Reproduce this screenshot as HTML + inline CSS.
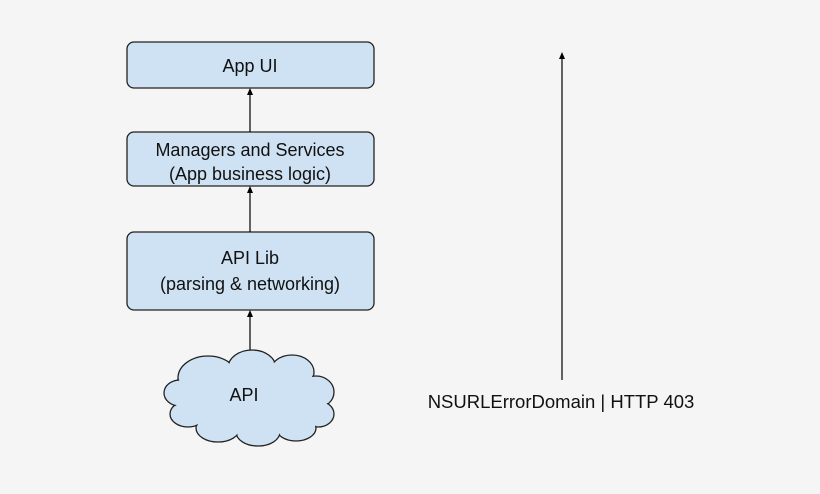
<!DOCTYPE html>
<html><head><style>html,body{margin:0;padding:0;background:#f5f5f5;}</style></head>
<body>
<svg width="820" height="489" viewBox="0 0 820 489" xmlns="http://www.w3.org/2000/svg" font-family="Liberation Sans, sans-serif">
<rect width="820" height="489" fill="#f5f5f5"/>
<g fill="#cfe2f3" stroke="#222" stroke-width="1.3">
<rect x="127" y="42" width="247" height="46" rx="7"/>
<rect x="127" y="132" width="247" height="54" rx="7"/>
<rect x="127" y="232" width="247" height="78" rx="7"/>
</g>
<g stroke="#000" stroke-width="1.2">
<line x1="250" y1="132" x2="250" y2="94"/>
<line x1="250" y1="232" x2="250" y2="192"/>
<line x1="250" y1="353" x2="250" y2="316"/>
<line x1="562" y1="380" x2="562" y2="58"/>
</g>
<g fill="#000">
<path d="M247,95 L250,88 L253,95 Z"/>
<path d="M247,193 L250,186 L253,193 Z"/>
<path d="M247,317 L250,310 L253,317 Z"/>
<path d="M559,59 L562,52 L565,59 Z"/>
</g>
<g fill="#cfe2f3" stroke="#222" stroke-width="1.3">
<ellipse cx="208" cy="378" rx="30" ry="22"/><ellipse cx="252" cy="368" rx="24" ry="18"/><ellipse cx="292" cy="372" rx="22" ry="17"/>
<ellipse cx="316" cy="392" rx="18" ry="16"/><ellipse cx="318" cy="414" rx="16" ry="13"/><ellipse cx="296" cy="428" rx="20" ry="13"/>
<ellipse cx="258" cy="432" rx="22" ry="14"/><ellipse cx="218" cy="428" rx="22" ry="14"/><ellipse cx="188" cy="414" rx="18" ry="13"/>
<ellipse cx="180" cy="393" rx="16" ry="13"/>
</g>
<g fill="#cfe2f3">
<ellipse cx="208" cy="378" rx="29" ry="21"/><ellipse cx="252" cy="368" rx="23" ry="17"/><ellipse cx="292" cy="372" rx="21" ry="16"/>
<ellipse cx="316" cy="392" rx="17" ry="15"/><ellipse cx="318" cy="414" rx="15" ry="12"/><ellipse cx="296" cy="428" rx="19" ry="12"/>
<ellipse cx="258" cy="432" rx="21" ry="13"/><ellipse cx="218" cy="428" rx="21" ry="13"/><ellipse cx="188" cy="414" rx="17" ry="12"/>
<ellipse cx="180" cy="393" rx="15" ry="12"/><ellipse cx="250" cy="400" rx="68" ry="32"/>
</g>
<g fill="#111" font-size="18" text-anchor="middle">
<text x="250" y="72">App UI</text>
<text x="250" y="156">Managers and Services</text>
<text x="250" y="180">(App business logic)</text>
<text x="250" y="264">API Lib</text>
<text x="250" y="290">(parsing &amp; networking)</text>
<text x="244" y="401">API</text>
<text x="561" y="408" font-size="18.5">NSURLErrorDomain | HTTP 403</text>
</g>
</svg>
</body></html>
